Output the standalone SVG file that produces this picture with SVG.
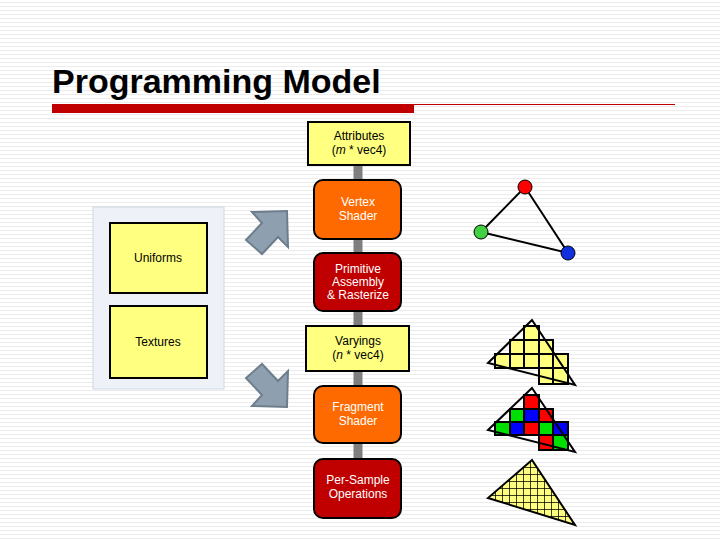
<svg xmlns="http://www.w3.org/2000/svg" width="720" height="540" viewBox="0 0 720 540">
<defs>
<pattern id="stripes" width="4" height="4" patternUnits="userSpaceOnUse"><rect width="4" height="4" fill="#fff"/><rect y="2" width="4" height="1" fill="#ececec"/></pattern>
<pattern id="fine" width="7" height="7" patternUnits="userSpaceOnUse" x="488" y="460"><rect width="7" height="7" fill="#ffff80"/><path d="M0 0H7M0 0V7" stroke="#000" stroke-width="1.5"/></pattern>
</defs>
<style>
.t{font-family:"Liberation Sans",Arial,sans-serif;font-size:12px;text-anchor:middle}
.y{fill:#ffff80;stroke:#000;stroke-width:2}
.o{fill:#ff6a00;stroke:#000;stroke-width:2}
.r{fill:#c00000;stroke:#000;stroke-width:2}
.w{fill:#fff}
.c{stroke:#7f7f7f;stroke-width:9}
.g{fill:#ffff80;stroke:#000;stroke-width:2}
.a{fill:#8ea0b0;stroke:#6d7d8c;stroke-width:2}
</style>
<rect width="720" height="540" fill="url(#stripes)"/>
<text x="52" y="93" font-family="Liberation Sans,Arial,sans-serif" font-weight="bold" font-size="34">Programming Model</text>
<rect x="52" y="104" width="362" height="9" fill="#c00000"/>
<line x1="414" y1="104.5" x2="675" y2="104.5" stroke="#c00000" stroke-width="1"/>
<g id="connectors">
<line class="c" x1="358" y1="165" x2="358" y2="180"/>
<line class="c" x1="358" y1="239" x2="358" y2="253"/>
<line class="c" x1="358" y1="311" x2="358" y2="326"/>
<line class="c" x1="358" y1="371" x2="358" y2="386"/>
<line class="c" x1="358" y1="443" x2="358" y2="459"/>
<polygon class="a" points="252,212 287,211 288,247 278,237 262,254 246,240 262,223"/>
<polygon class="a" points="252,406 287,407 288,371 278,381 262,364 246,378 262,395"/>
</g>
<g id="panel"><rect x="93" y="207" width="131" height="182" fill="#eef2f8" stroke="#d0d8e0"/></g>
<g id="uniforms"><rect class="y" x="110" y="223" width="97" height="70"/><text class="t" x="158" y="262">Uniforms</text></g>
<g id="textures"><rect class="y" x="110" y="306" width="97" height="72"/><text class="t" x="158" y="346">Textures</text></g>
<g id="attributes"><rect class="y" x="308" y="122" width="102" height="43"/><text class="t" x="359" y="140">Attributes</text><text class="t" x="359" y="154">(<tspan font-style="italic">m</tspan> * vec4)</text></g>
<g id="vertex"><rect class="o" x="314" y="180" width="87" height="59" rx="9"/><text class="t w" x="358" y="206">Vertex</text><text class="t w" x="358" y="220">Shader</text></g>
<g id="primitive"><rect class="r" x="314" y="253" width="87" height="58" rx="9"/><text class="t w" x="358" y="273">Primitive</text><text class="t w" x="358" y="286">Assembly</text><text class="t w" x="358" y="299">&amp; Rasterize</text></g>
<g id="varyings"><rect class="y" x="306" y="326" width="103" height="45"/><text class="t" x="358" y="345">Varyings</text><text class="t" x="358" y="359">(<tspan font-style="italic">n</tspan> * vec4)</text></g>
<g id="fragment"><rect class="o" x="314" y="386" width="87" height="57" rx="9"/><text class="t w" x="358" y="411">Fragment</text><text class="t w" x="358" y="425">Shader</text></g>
<g id="persample"><rect class="r" x="314" y="459" width="87" height="59" rx="9"/><text class="t w" x="358" y="484">Per-Sample</text><text class="t w" x="358" y="498">Operations</text></g>
<g id="vertices"><polyline points="481,232 525,187 568,253 481,232" fill="none" stroke="#000" stroke-width="2"/><circle cx="525" cy="187" r="7" fill="#ff0000" stroke="#000"/><circle cx="481" cy="232" r="7" fill="#40d040" stroke="#000"/><circle cx="568" cy="253" r="7" fill="#1030e0" stroke="#000"/></g>
<g id="raster1" stroke="#000" stroke-width="2">
<rect class="g" x="524" y="326" width="15" height="14"/>
<rect class="g" x="510" y="340" width="14" height="14"/><rect class="g" x="524" y="340" width="15" height="14"/><rect class="g" x="539" y="340" width="14" height="14"/>
<rect class="g" x="495" y="354" width="15" height="14"/><rect class="g" x="510" y="354" width="14" height="14"/><rect class="g" x="524" y="354" width="15" height="14"/><rect class="g" x="539" y="354" width="14" height="14"/><rect class="g" x="553" y="354" width="15" height="14"/>
<rect class="g" x="539" y="368" width="14" height="16"/><rect class="g" x="553" y="368" width="15" height="16"/>
<polygon points="532,320 488,363 575,385" fill="none"/>
</g>
<g id="raster2" stroke="#000" stroke-width="2">
<rect x="524" y="395" width="15" height="14" fill="#ff0000"/>
<rect x="510" y="409" width="14" height="13" fill="#00e000"/><rect x="524" y="409" width="15" height="13" fill="#0000ff"/><rect x="539" y="409" width="14" height="13" fill="#ff0000"/>
<rect x="495" y="422" width="15" height="13" fill="#00e000"/><rect x="510" y="422" width="14" height="13" fill="#0000ff"/><rect x="524" y="422" width="15" height="13" fill="#ff0000"/><rect x="539" y="422" width="14" height="13" fill="#00e000"/><rect x="553" y="422" width="15" height="13" fill="#0000ff"/>
<rect x="539" y="435" width="14" height="15" fill="#ff0000"/><rect x="553" y="435" width="15" height="15" fill="#00e000"/>
<polygon points="532,388 488,430 575,452" fill="none"/>
</g>
<g id="raster3">
<polygon points="532,460 488,498 575,525" fill="url(#fine)" stroke="#000" stroke-width="2"/>
</g>
</svg>
